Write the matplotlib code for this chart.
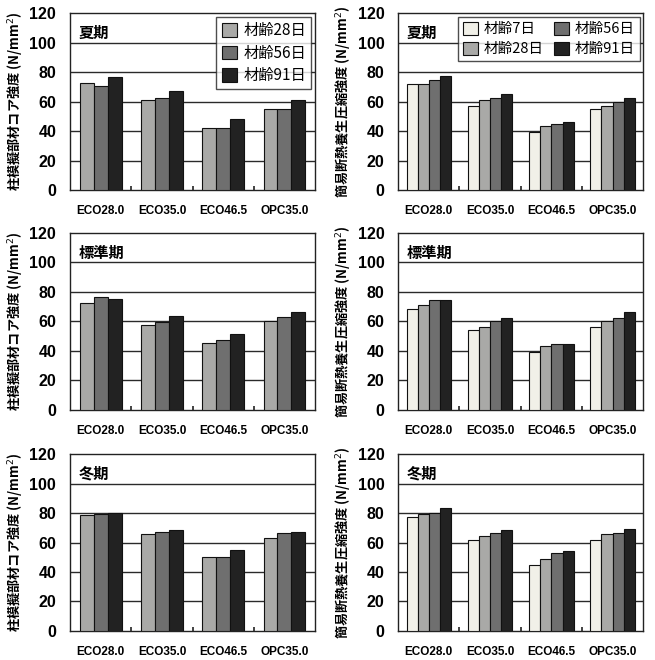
import matplotlib
matplotlib.use("Agg")
import matplotlib.pyplot as plt
import numpy as np

plt.rcParams['font.family'] = ['Liberation Sans', 'Noto Sans CJK JP', 'DejaVu Sans']

categories = ["ECO28.0", "ECO35.0", "ECO46.5", "OPC35.0"]
seasons = ["夏期", "標準期", "冬期"]

# core strength of column specimens (ages 28, 56, 91 days)
core_labels = ["材齢28日", "材齢56日", "材齢91日"]
core_summer = [[72.7, 61.4, 42.3, 55.0],
               [70.5, 62.5, 42.3, 55.0],
               [76.4, 67.5, 48.2, 61.4]]
core_standard = [[72.7, 57.5, 45.5, 60.2],
                 [76.8, 59.5, 47.5, 63.2],
                 [75.5, 63.6, 51.6, 66.4]]
core_winter = [[78.6, 66.0, 50.0, 63.3],
               [79.3, 67.2, 50.0, 66.5],
               [80.0, 68.3, 55.0, 67.0]]

# simple insulated-curing compressive strength (ages 7, 28, 56, 91 days)
cure_labels = ["材齢7日", "材齢28日", "材齢56日", "材齢91日"]
cure_summer = [[72.3, 57.3, 39.3, 55.2],
               [72.3, 61.4, 43.2, 57.3],
               [74.5, 62.5, 45.0, 60.0],
               [77.3, 65.2, 46.1, 62.3]]
cure_standard = [[68.6, 54.0, 39.0, 56.0],
                 [71.0, 56.0, 43.0, 60.0],
                 [74.3, 60.0, 44.8, 62.3],
                 [74.3, 62.3, 44.8, 66.4]]
cure_winter = [[77.3, 61.4, 44.7, 61.4],
               [79.5, 64.4, 49.0, 65.5],
               [80.0, 66.2, 52.8, 66.2],
               [83.6, 68.5, 54.0, 69.3]]

core_ylabel = "柱模擬部材コア強度 (N/mm$^2$)"
cure_ylabel = "簡易断熱養生圧縮強度 (N/mm$^2$)"

core_colors = ["#a9a9a7", "#6f6f6f", "#222222"]
cure_colors = ["#f1f0e8", "#a9a9a7", "#6f6f6f", "#222222"]

fig = plt.figure(figsize=(6.55, 6.6), dpi=100)

rows_bottom = [0.712, 0.379, 0.044]
row_height = 0.268
lefts = [0.107, 0.608]
width = 0.374


def draw_panel(ax, series, labels, colors, title, ylabel, legend_cols=None):
    n = len(series)
    x = np.arange(len(categories))
    group = 0.68 if n == 3 else 0.73
    bw = group / n
    for i, (vals, lab, col) in enumerate(zip(series, labels, colors)):
        offs = (i - (n - 1) / 2) * bw
        ax.bar(x + offs, vals, bw, color=col, edgecolor="#111111",
               linewidth=0.8, label=lab, zorder=3)
    ax.set_ylim(0, 120)
    ax.set_xlim(-0.5, len(categories) - 0.5)
    ax.set_yticks(np.arange(0, 121, 20))
    for yv in range(20, 120, 20):
        ax.axhline(yv, color="#2a2a2a", linewidth=1.0, zorder=1)
    ax.set_xticks(x)
    ax.set_xticklabels(categories, fontsize=8.5, fontweight="bold")
    ax.tick_params(axis="x", length=0, pad=11)
    ax.tick_params(axis="y", length=0, pad=10, labelsize=11.5)
    for t in ax.get_yticklabels():
        t.set_fontweight("bold")
    # small boundary marks between categories
    ax.set_xticks(np.arange(0.5, len(categories) - 1, 1.0), minor=True)
    ax.tick_params(axis="x", which="minor", direction="in", length=3,
                   width=1.2, color="#222222")
    for s in ax.spines.values():
        s.set_color("#222222")
        s.set_linewidth(1.0)
    ax.text(0.035, 0.935, title, transform=ax.transAxes, fontsize=11,
            fontweight="bold", va="top", ha="left",
            family=['Noto Sans CJK JP'])
    ax.set_ylabel(ylabel, fontsize=9.5, fontweight="bold",
                  family=['Noto Sans CJK JP', 'DejaVu Sans'], labelpad=4)
    if legend_cols is not None:
        size = 11.0 if legend_cols == 1 else 10.5
        leg = ax.legend(loc="upper right", ncol=legend_cols,
                        frameon=True, fancybox=False, edgecolor="#222222",
                        borderpad=0.35, handlelength=1.0, handleheight=1.0,
                        handletextpad=0.4, columnspacing=0.7,
                        labelspacing=0.35, borderaxespad=0.25,
                        prop={'family': ['Noto Sans CJK JP'], 'size': size})
        leg.get_frame().set_linewidth(1.0)
        leg.set_zorder(5)


core_data = [core_summer, core_standard, core_winter]
cure_data = [cure_summer, cure_standard, cure_winter]

for r in range(3):
    axl = fig.add_axes([lefts[0], rows_bottom[r], width, row_height])
    draw_panel(axl, core_data[r], core_labels, core_colors, seasons[r],
               core_ylabel, legend_cols=1 if r == 0 else None)
    axr = fig.add_axes([lefts[1], rows_bottom[r], width, row_height])
    draw_panel(axr, cure_data[r], cure_labels, cure_colors, seasons[r],
               cure_ylabel, legend_cols=2 if r == 0 else None)

fig.savefig("out.png", dpi=100, facecolor="white")
